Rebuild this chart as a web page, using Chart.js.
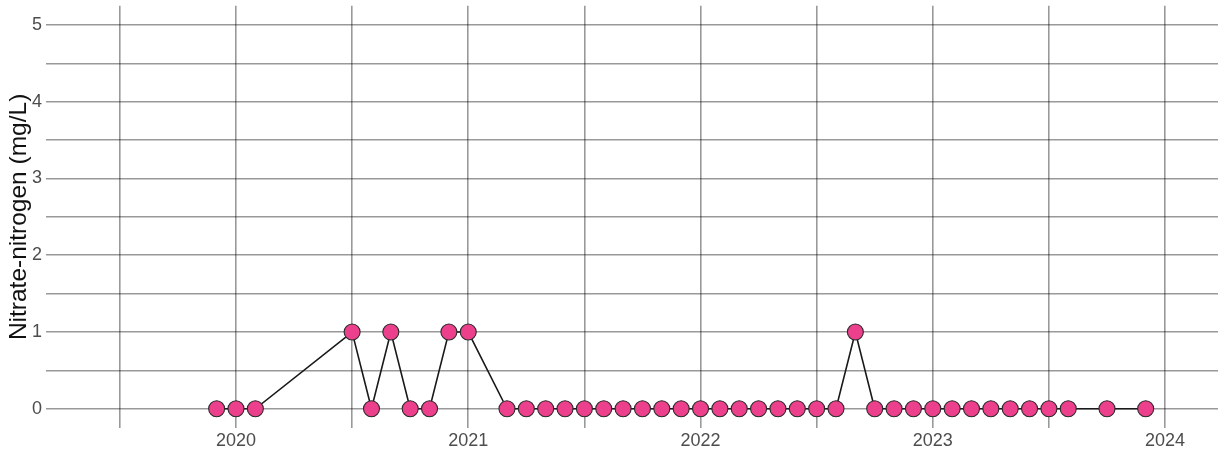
<!DOCTYPE html>
<html>
<head>
<meta charset="utf-8">
<script src="https://cdn.jsdelivr.net/npm/chart.js@4.4.1/dist/chart.umd.min.js"></script>
<style>
  html, body { margin: 0; padding: 0; background: #ffffff; }
  #wrap { width: 1225px; height: 460px; position: relative; }
</style>
</head>
<body>
<div id="wrap"><canvas id="c" width="1225" height="460"></canvas></div>
<script>
// Sample months (YYYY-MM) and nitrate-nitrogen values (mg/L)
const sampleMonths = [
  "2019-12","2020-01","2020-02","2020-07","2020-08","2020-09","2020-10","2020-11","2020-12",
  "2021-01","2021-03","2021-04","2021-05","2021-06","2021-07","2021-08","2021-09","2021-10",
  "2021-11","2021-12","2022-01","2022-02","2022-03","2022-04","2022-05","2022-06","2022-07",
  "2022-08","2022-09","2022-10","2022-11","2022-12","2023-01","2023-02","2023-03","2023-04",
  "2023-05","2023-06","2023-07","2023-08","2023-10","2023-12"
];
const nitrateValues = [
  0,0,0,1,0,1,0,0,1,
  1,0,0,0,0,0,0,0,0,
  0,0,0,0,0,0,0,0,0,
  0,1,0,0,0,0,0,0,0,
  0,0,0,0,0,0
];
const xTickYears = [2020, 2021, 2022, 2023, 2024];
const xGridValues = [2019.5, 2020, 2020.5, 2021, 2021.5, 2022, 2022.5, 2023, 2023.5, 2024];
const yTickValues = [0, 1, 2, 3, 4, 5];
const yGridValues = [0, 0.5, 1, 1.5, 2, 2.5, 3, 3.5, 4, 4.5, 5];
const yAxisTitle = "Nitrate-nitrogen (mg/L)";

function toYear(s) {
  const [y, m] = s.split("-").map(Number);
  return y + (m - 1) / 12;
}
const points = sampleMonths.map((d, i) => ({ x: toYear(d), y: nitrateValues[i] }));

const FONT = "'Liberation Sans', Arial, Helvetica, sans-serif";
const GRID = "rgba(0,0,0,0.4)";

new Chart(document.getElementById("c"), {
  type: "line",
  data: {
    datasets: [{
      data: points,
      borderColor: "#1a1a1a",
      borderWidth: 1.6,
      backgroundColor: "#EC3F8C",
      pointBackgroundColor: "#EC3F8C",
      pointBorderColor: "#2b2b2b",
      pointBorderWidth: 1.1,
      pointRadius: 8,
      pointHoverRadius: 8,
      tension: 0,
      fill: false
    }]
  },
  options: {
    responsive: false,
    animation: false,
    layout: { autoPadding: false, padding: { top: 4, right: 7, left: 0, bottom: 0 } },
    plugins: { legend: { display: false }, tooltip: { enabled: false } },
    scales: {
      x: {
        type: "linear",
        min: 2019.182,
        max: 2024.228,
        border: { display: false },
        grid: { color: GRID, lineWidth: 1.6, drawTicks: false },
        afterBuildTicks: (s) => { s.ticks = xGridValues.map(v => ({ value: v })); },
        afterFit: (s) => { s.height = 32; },
        ticks: {
          autoSkip: false,
          maxRotation: 0,
          padding: 2,
          color: "#4d4d4d",
          font: { family: FONT, size: 18 },
          callback: (v) => xTickYears.includes(v) ? String(v) : ""
        }
      },
      y: {
        type: "linear",
        min: -0.25,
        max: 5.25,
        border: { display: false },
        grid: { color: GRID, lineWidth: 1.6, drawTicks: false },
        afterBuildTicks: (s) => { s.ticks = yGridValues.map(v => ({ value: v })); },
        afterFit: (s) => { s.width = 46; },
        title: {
          display: true,
          text: yAxisTitle,
          color: "#111111",
          font: { family: FONT, size: 24.5 },
          padding: { top: 5, bottom: 0 }
        },
        ticks: {
          autoSkip: false,
          padding: 4,
          color: "#4d4d4d",
          font: { family: FONT, size: 18, lineHeight: 0.2 },
          callback: (v) => yTickValues.includes(v) ? String(v) : ""
        }
      }
    }
  }
});
</script>
</body>
</html>
